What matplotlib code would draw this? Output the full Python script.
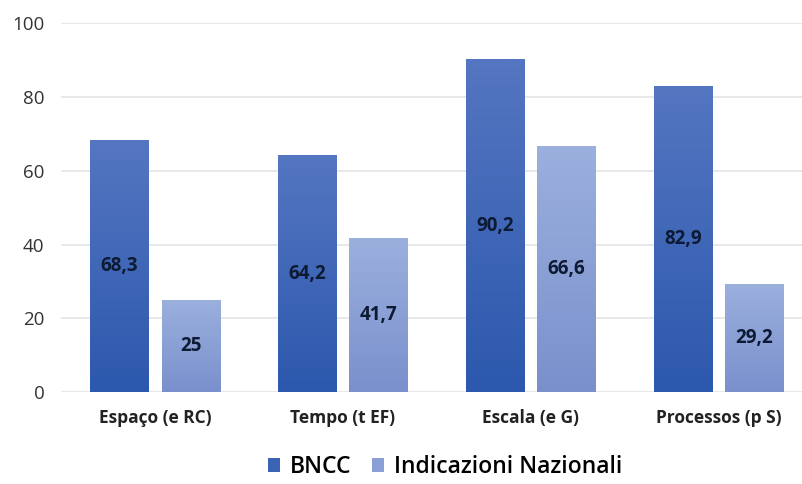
import numpy as np
import matplotlib
matplotlib.use('Agg')
import matplotlib.pyplot as plt
from matplotlib.colors import LinearSegmentedColormap

plt.rcParams['font.family'] = ['Open Sans', 'DejaVu Sans']

categories = ['Espaço (e RC)', 'Tempo (t EF)', 'Escala (e G)', 'Processos (p S)']
bncc = [68.3, 64.2, 90.2, 82.9]
indicazioni = [25, 41.7, 66.6, 29.2]
value_labels_bncc = ['68,3', '64,2', '90,2', '82,9']
value_labels_ind = ['25', '41,7', '66,6', '29,2']

# vertical gradients (bottom -> top)
dark_cmap = LinearSegmentedColormap.from_list('dark', ['#2c58ad', '#5576c1'])
light_cmap = LinearSegmentedColormap.from_list('light', ['#7a90cd', '#9bb0dd'])

fig = plt.figure(figsize=(8.03, 4.84), dpi=100)
ax = fig.add_axes([0.076, 0.19, 0.936, 0.762])

x = np.arange(len(categories))
w = 0.31
gap = 0.035
bars1 = ax.bar(x - w / 2 - gap, bncc, w, color='#3a62b5', label='BNCC', zorder=2)
bars2 = ax.bar(x + w / 2 + gap, indicazioni, w, color='#899fd6', label='Indicazioni Nazionali', zorder=2)

# fill each bar with its gradient, clipped to the bar outline
grad = np.linspace(0, 1, 256).reshape(-1, 1)
for bars, cmap in ((bars1, dark_cmap), (bars2, light_cmap)):
    for b in bars:
        x0, y0 = b.get_x(), b.get_y()
        img = ax.imshow(grad, cmap=cmap, origin='lower', aspect='auto',
                        extent=[x0, x0 + b.get_width(), y0, y0 + b.get_height()],
                        zorder=3)
        img.set_clip_path(b)

ax.set_xlim(-0.5, 3.5)
ax.set_ylim(0, 100)

for bars, labels in ((bars1, value_labels_bncc), (bars2, value_labels_ind)):
    for b, t in zip(bars, labels):
        ax.text(b.get_x() + b.get_width() / 2, b.get_height() / 2, t,
                ha='center', va='center', fontsize=13.5, fontweight='bold',
                color='#0d1a33', zorder=4)

ax.set_yticks([0, 20, 40, 60, 80, 100])
ax.set_xticks(x)
ax.set_xticklabels(categories, fontsize=12.5, fontweight='bold', color='#222222')
ax.tick_params(axis='y', labelsize=13.5, colors='#333333', length=0, pad=12)
ax.tick_params(axis='x', length=0, pad=12)
ax.grid(axis='y', color='#e6e6e6', linewidth=1.3, zorder=0)
for s in ax.spines.values():
    s.set_visible(False)

fig.legend(handles=[bars1, bars2], loc='center', bbox_to_anchor=(0.554, 0.035),
           ncol=2, frameon=False, prop={'size': 16.5, 'weight': 'semibold'},
           handlelength=0.55, handleheight=0.55, handletextpad=0.4, columnspacing=0.9)

fig.savefig('out.png', dpi=100)
